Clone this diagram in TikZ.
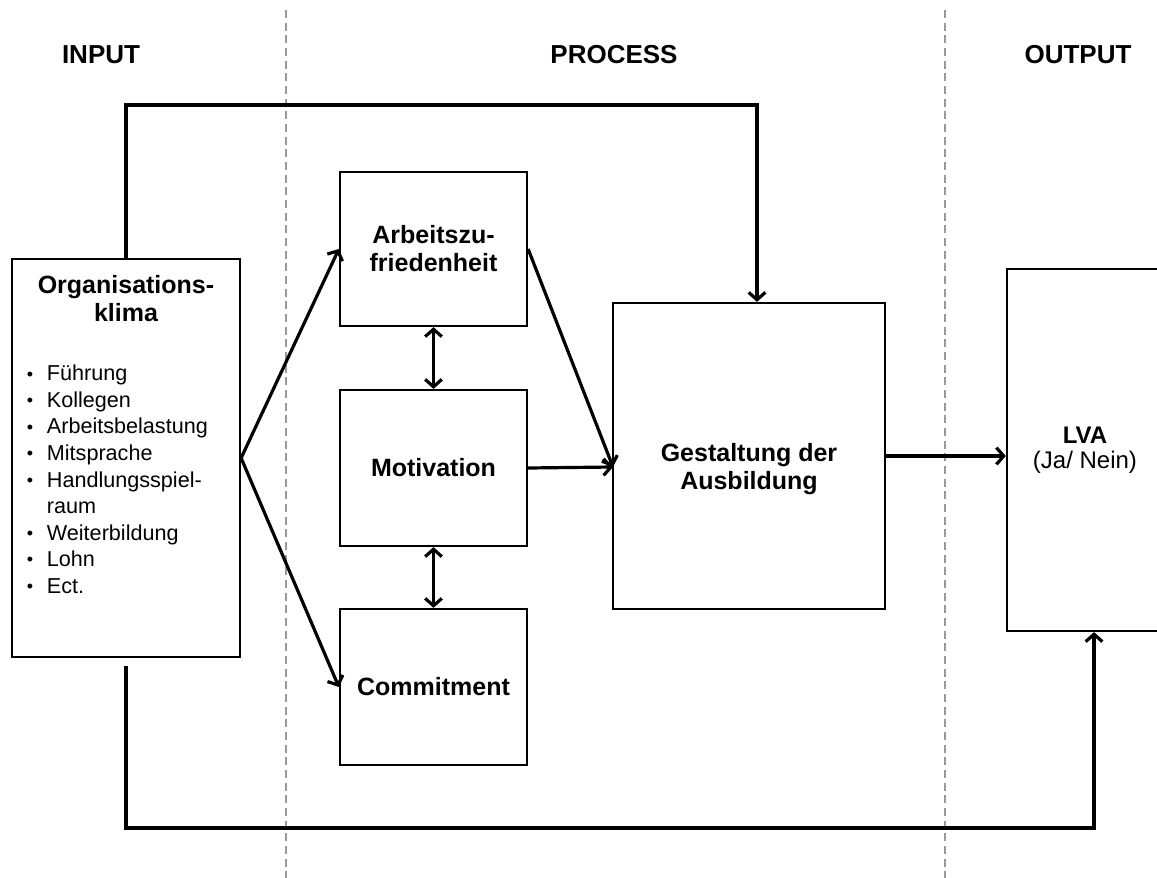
\documentclass[tikz,border=0pt]{standalone}
\usepackage{fontspec}
\setmainfont{Liberation Sans}
\usetikzlibrary{arrows.meta}

% small bullet with a fixed indent for the factor list
\newcommand\itm{\makebox[17pt][l]{\kern2pt\raisebox{0.5pt}{\fontsize{13.5}{13.5}\selectfont•}}}

\begin{document}
\begin{tikzpicture}[x=0.75pt,y=-0.75pt,
  box/.style={draw=black,line width=1.7pt,fill=white,inner sep=0pt},
  boxtitle/.style={font=\bfseries\fontsize{18.75}{21}\selectfont,align=center},
  head/.style={font=\bfseries\fontsize{19.5}{23}\selectfont},
  items/.style={font=\fontsize{16.2}{19.9}\selectfont,align=left,inner sep=0pt},
  conn/.style={line width=2.4pt,line join=miter},
  tip/.style={-{Straight Barb[length=5.5pt,width=12.5pt]}},
  both/.style={{Straight Barb[length=5.5pt,width=12.5pt]}-{Straight Barb[length=5.5pt,width=12.5pt]}},
  sep/.style={draw=gray!80,line width=0.9pt,dash pattern=on 6pt off 3.5pt}
]
\useasboundingbox (0,0) rectangle (1157,878);
\clip (0,0) rectangle (1157,878);
\fill[white] (0,0) rectangle (1157,878);

% phase separators
\coordinate (s1t) at (286,10);  \coordinate (s1b) at (286,878);
\coordinate (s2t) at (945,10);  \coordinate (s2b) at (945,878);
\draw[sep] (s1t) -- (s1b);
\draw[sep] (s2t) -- (s2b);

% phase headings
\node[head] (hin)  at (101,55)  {INPUT};
\node[head] (hpr)  at (614,55)  {PROCESS};
\node[head] (hout) at (1078,55) {OUTPUT};

% input
\node[box,minimum width=171pt,minimum height=298.5pt] (org) at (126,458) {};
\node[boxtitle] (orgt) at (126,299) {Organisations-\\klima};
\node[items,anchor=north west] (orgl) at (24,365)
  {\itm Führung\\ \itm Kollegen\\ \itm Arbeitsbelastung\\ \itm Mitsprache\\
   \itm Handlungsspiel-\\ \hspace*{17pt}raum\\ \itm Weiterbildung\\ \itm Lohn\\ \itm Ect.};

% process
\node[box,boxtitle,minimum width=140.25pt,minimum height=115.5pt] (arb) at (433.5,249) {Arbeitszu-\\friedenheit};
\node[box,boxtitle,minimum width=140.25pt,minimum height=117pt] (mot) at (433.5,468) {Motivation};
\node[box,boxtitle,minimum width=140.25pt,minimum height=117pt] (com) at (433.5,687) {Commitment};
\node[box,minimum width=204pt,minimum height=229.5pt] (gest) at (749,456) {};
\node[boxtitle,font=\bfseries\fontsize{18.75}{20.5}\selectfont] (gestt) at (749,469) {Gestaltung der\\Ausbildung};

% output
\node[box,minimum width=117pt,minimum height=271.5pt,align=center,
      font=\fontsize{18}{19}\selectfont] (lva) at (1085,450) {\textbf{LVA}\\(Ja/ Nein)};

% connectors
\coordinate (gin) at (613,467);
\coordinate (toprow) at (0,105);
\coordinate (botrow) at (0,828);
\coordinate (gtop) at ([xshift=6pt]gest.north);
\coordinate (orgb) at ([yshift=-6pt]org.south);
\coordinate (lbot) at ([xshift=6.75pt]lva.south);

\draw[conn,tip] (org.east) -- (arb.west);
\draw[conn,tip] (org.east) -- (com.west);
\draw[conn,tip] (arb.east) -- (gin);
\draw[conn,tip] (mot.east) -- (gin);
\draw[conn,both] (arb.south) -- (mot.north);
\draw[conn,both] (mot.south) -- (com.north);
\draw[conn,tip] (gest.east) -- (gest.east -| lva.west);
\draw[conn,tip] (org.north) -- (org.north |- toprow) -| (gtop);
\draw[conn,tip] (orgb) -- (orgb |- botrow) -| (lbot);
\end{tikzpicture}
\end{document}
